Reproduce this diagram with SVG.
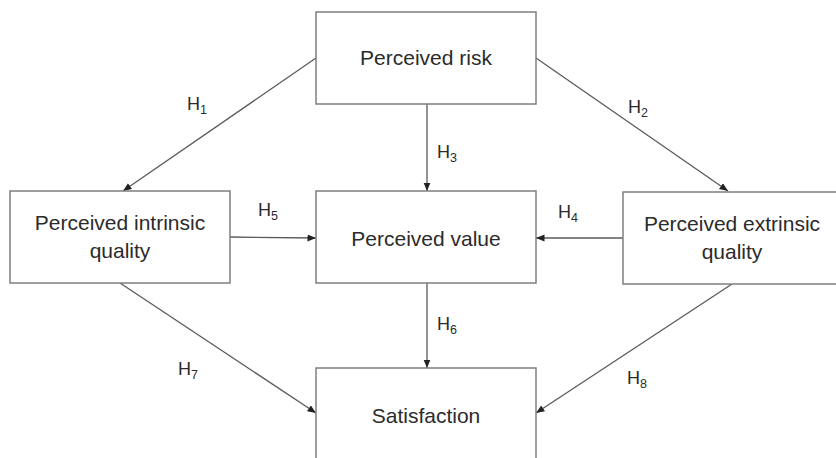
<svg xmlns="http://www.w3.org/2000/svg" width="836" height="458" viewBox="0 0 836 458">
<style>
.box{fill:#fff;stroke:#7f7f7f;stroke-width:1.5}
.t{font-family:"Liberation Sans",Arial,sans-serif;font-size:21px;fill:#2b2b2b;text-anchor:middle}
.h{font-family:"Liberation Sans",Arial,sans-serif;font-size:18px;fill:#2b2b2b}
.s{font-size:12.5px}
.c{stroke:#5a5a5a;stroke-width:1.3;fill:none;marker-end:url(#ah)}
</style>
<defs>
<marker id="ah" markerUnits="userSpaceOnUse" markerWidth="9" markerHeight="8" refX="8.5" refY="3.5" orient="auto">
<path d="M0,0 L8.5,3.5 L0,7 z" fill="#222"/>
</marker>
</defs>
<rect width="836" height="458" fill="#fff"/>
<g id="connectors">
<line class="c" x1="316" y1="58" x2="123" y2="191"/>
<line class="c" x1="536" y1="58" x2="728" y2="191"/>
<line class="c" x1="427" y1="104" x2="427" y2="191"/>
<line class="c" x1="623" y1="238" x2="536" y2="238"/>
<line class="c" x1="230" y1="237" x2="316" y2="238"/>
<line class="c" x1="427" y1="283" x2="427" y2="368"/>
<line class="c" x1="120" y1="283" x2="316" y2="413"/>
<line class="c" x1="732" y1="284" x2="536" y2="413"/>
<text class="h" x="187" y="110">H<tspan class="s" dy="4">1</tspan></text>
<text class="h" x="628" y="113">H<tspan class="s" dy="4">2</tspan></text>
<text class="h" x="437" y="158">H<tspan class="s" dy="4">3</tspan></text>
<text class="h" x="558" y="218">H<tspan class="s" dy="4">4</tspan></text>
<text class="h" x="258" y="216">H<tspan class="s" dy="4">5</tspan></text>
<text class="h" x="437" y="330">H<tspan class="s" dy="4">6</tspan></text>
<text class="h" x="178" y="375">H<tspan class="s" dy="4">7</tspan></text>
<text class="h" x="627" y="384">H<tspan class="s" dy="4">8</tspan></text>
</g>
<g id="risk">
<rect class="box" x="316" y="12" width="220" height="92"/>
<text class="t" x="426" y="65">Perceived risk</text>
</g>
<g id="intrinsic">
<rect class="box" x="10" y="191" width="220" height="92"/>
<text class="t" x="120" y="230">Perceived intrinsic</text>
<text class="t" x="120" y="258">quality</text>
</g>
<g id="value">
<rect class="box" x="316" y="191" width="220" height="92"/>
<text class="t" x="426" y="246">Perceived value</text>
</g>
<g id="extrinsic">
<rect class="box" x="623" y="192" width="222" height="92"/>
<text class="t" x="732" y="231">Perceived extrinsic</text>
<text class="t" x="732" y="259">quality</text>
</g>
<g id="satisfaction">
<rect class="box" x="316" y="368" width="220" height="100"/>
<text class="t" x="426" y="423">Satisfaction</text>
</g>
</svg>
